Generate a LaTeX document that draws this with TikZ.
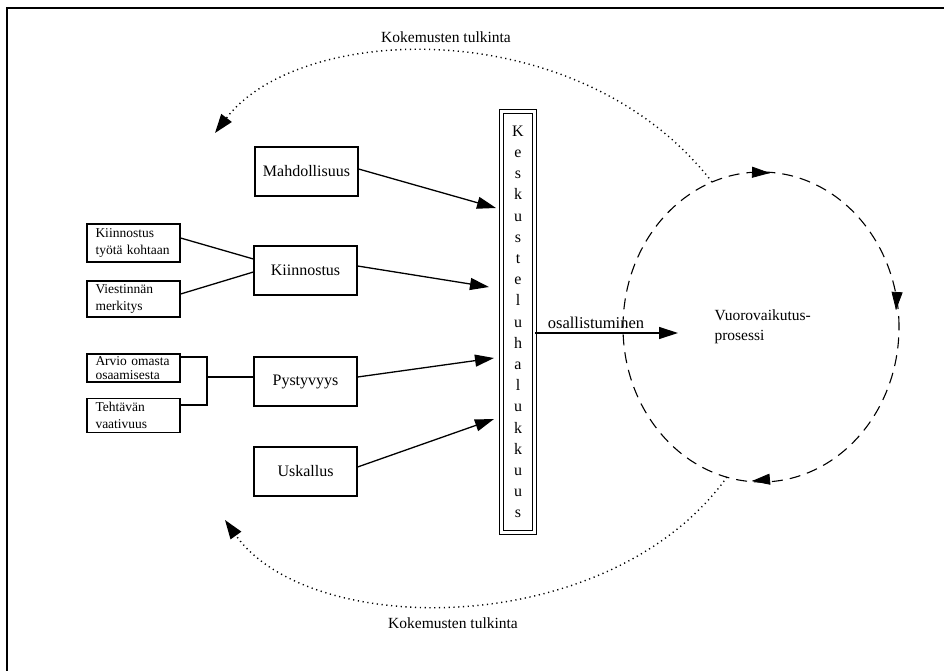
\documentclass[tikz,border=0pt]{standalone}
\usepackage{fontspec}
\setmainfont{Liberation Serif}
\usetikzlibrary{arrows.meta}
\tikzset{
  bigbox/.style={draw, line width=1.2pt, minimum width=103pt, minimum height=49pt, inner sep=2pt, font=\fontsize{16}{18}\selectfont},
  smallbox/.style={draw, line width=1.2pt, text width=76pt, inner xsep=8.5pt, inner ysep=0pt, align=left, font=\fontsize{13.5}{16.5}\selectfont},
  conn/.style={line width=1.3pt},
  arr/.style={line width=1.3pt, -{Triangle[length=19pt,width=12pt]}},
  dotarc/.style={line width=1.4pt, dash pattern=on 1.2pt off 3.6pt, -{Triangle[length=19pt,width=13pt]}},
  tip/.style={-{Triangle[length=18pt,width=11pt]}, line width=0.8pt},
  lbl/.style={font=\fontsize{15.5}{17}\selectfont}
}
\begin{document}
\begin{tikzpicture}[x=1pt,y=-1pt]
\useasboundingbox (0,0) rectangle (944,671);
% frame
\draw[line width=1.6pt] (7,671) -- (7,8) -- (944,8);

% central box
\node[draw, double, double distance=2.4pt, line width=1.2pt, minimum width=33pt, minimum height=421pt, inner sep=0pt,
      align=center, font=\fontsize{16}{21.2}\selectfont] (kesk) at (518,322)
  {K\\e\\s\\k\\u\\s\\t\\e\\l\\u\\h\\a\\l\\u\\k\\k\\u\\u\\s};

% main factor boxes
\node[bigbox] (mahd) at (306.5,171.5) {Mahdollisuus};
\node[bigbox] (kiin) at (305.5,270.5) {Kiinnostus};
\node[bigbox] (pyst) at (305.5,381.5) {Pystyvyys};
\node[bigbox] (uska) at (305.5,471.5) {Uskallus};

% small boxes
\node[smallbox, minimum height=38pt] (ktk) at (133.5,243) {Kiinnostus\\työtä kohtaan};
\node[smallbox, minimum height=36pt] (vm) at (133.5,299) {Viestinnän\\merkitys};
\node[smallbox, minimum height=28pt, font=\fontsize{13.5}{13.5}\selectfont] (arv) at (133.5,368) {Arvio omasta\\osaamisesta};
\node[smallbox, minimum height=34pt] (teh) at (133.5,415.5) {Tehtävän\\vaativuus};

% connectors small -> Kiinnostus
\draw[conn] (ktk.east |- 0,238) -- (kiin.west |- 0,259);
\draw[conn] (vm.east |- 0,294) -- (kiin.west |- 0,272);

% bracket to Pystyvyys
\coordinate (br1) at (207,357);
\coordinate (br2) at (207,405);
\coordinate (brm) at (207,377);
\draw[conn] (arv.east |- br1) -- (br1) -- (br2) -- (teh.east |- br2);
\draw[conn] (brm) -- (pyst.west |- brm);

% arrows to central box
\coordinate (t1) at (496,208);
\coordinate (t2) at (489,287);
\coordinate (t3) at (494,358);
\coordinate (t4) at (494,419);
\draw[arr] (mahd.east |- 0,169) -- (t1);
\draw[arr] (kiin.east |- 0,266) -- (t2);
\draw[arr] (pyst.east |- 0,377) -- (t3);
\draw[arr] (uska.east |- 0,467) -- (t4);

% process circle
\draw[line width=1.1pt, dash pattern=on 11pt off 7pt] (761,327) ellipse [x radius=138pt, y radius=155pt];
\node[lbl, anchor=west, align=left, font=\fontsize{15.5}{20}\selectfont] (proc) at (711,327) {Vuorovaikutus-\\prosessi};

% osallistuminen
\coordinate (osEnd) at (678,333);
\draw[arr] (kesk.east |- osEnd) -- (osEnd);
\node[lbl, anchor=south, font=\fontsize{16.5}{18}\selectfont] (osl) at (596,332) {osallistuminen};

% arrow tips on circle (clockwise)
\coordinate (ca1) at (770,173);
\coordinate (ca2) at (896,310);
\coordinate (ca3) at (752,481);
\draw[tip] (769.5,172.98) -- (ca1);
\draw[tip] (896.03,309.5) -- (ca2);
\draw[tip] (752.5,480.95) -- (ca3);

% dotted feedback arcs
\coordinate (a1s) at (712,182);
\coordinate (a1e) at (215,133);
\coordinate (a2s) at (727,477);
\coordinate (a2e) at (225,520);
\draw[dotarc] (a1s) .. controls (580,12) and (300,22) .. (a1e);
\draw[dotarc] (a2s) .. controls (610,640) and (310,640) .. (a2e);
\node[lbl] (k1) at (446,37) {Kokemusten tulkinta};
\node[lbl] (k2) at (453,623) {Kokemusten tulkinta};
\end{tikzpicture}
\end{document}
